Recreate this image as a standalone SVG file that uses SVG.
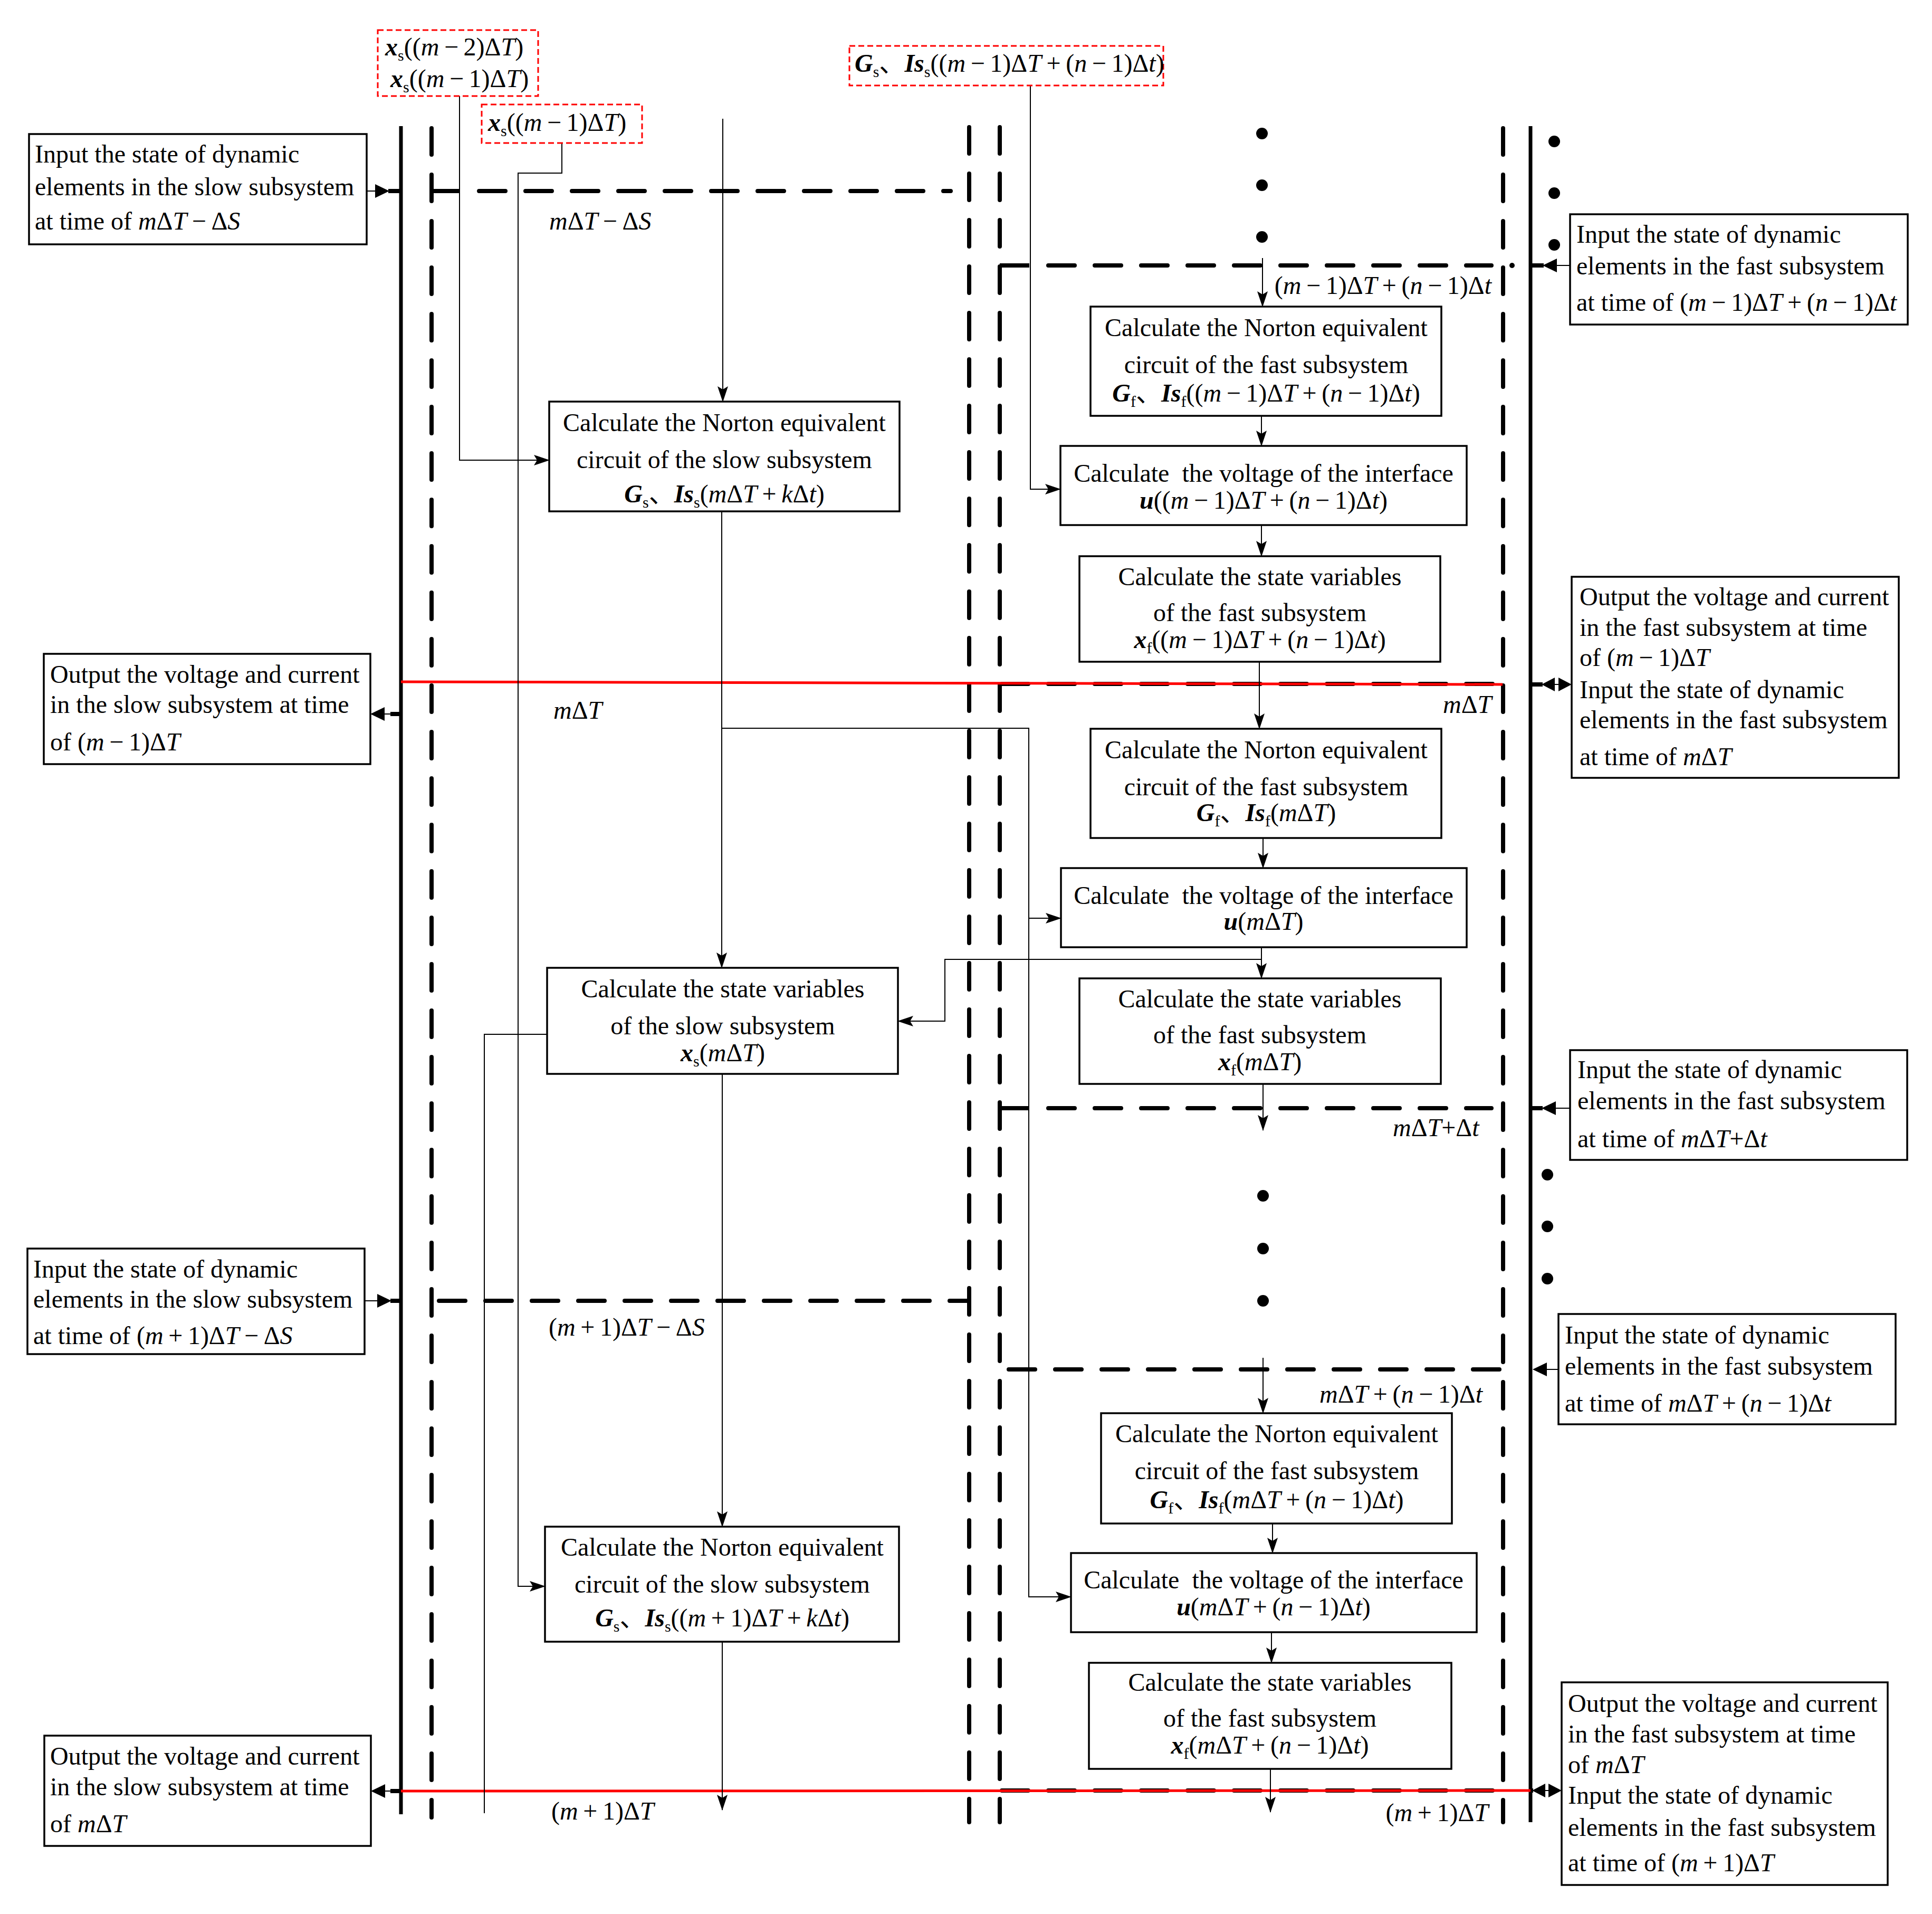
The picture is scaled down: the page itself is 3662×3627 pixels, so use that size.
<svg xmlns="http://www.w3.org/2000/svg" width="3662" height="3627" viewBox="0 0 3662 3627">
<defs>
<style>
text{font-family:"Liberation Serif","Noto Sans CJK SC",serif;font-size:48px;fill:#000}
.i{font-style:italic}
.b{font-style:italic;font-weight:bold}
.sub{font-size:30px;font-style:normal;font-weight:normal}
.mid{text-anchor:middle}
.end{text-anchor:end}
.box{fill:#fff;stroke:#000;stroke-width:3.5}
.rbox{fill:#fff;stroke:#f00;stroke-width:3;stroke-dasharray:11 6}
.thick{stroke:#000;stroke-width:7;fill:none}
.dash{stroke:#000;stroke-width:8;fill:none;stroke-dasharray:50 38;stroke-linecap:round}
.solid8{stroke:#000;stroke-width:8;fill:none}
.red{stroke:#f00;stroke-width:5;fill:none}
.con{stroke:#000;stroke-width:2;fill:none}
.arr{stroke:#000;stroke-width:2;fill:none;marker-end:url(#ah)}
.head{fill:#000}
</style>
<marker id="ah" viewBox="0 0 30 22" refX="29" refY="11" markerWidth="30" markerHeight="22" markerUnits="userSpaceOnUse" orient="auto"><path d="M0,1 L30,11 L0,21 L6,11 z" fill="#000"/></marker>
</defs>
<rect width="3662" height="3627" fill="#fff"/>

<g id="timelines">
<line class="thick" x1="760" y1="239" x2="760" y2="3438"/>
<line class="dash" x1="818" y1="243" x2="818" y2="3444"/>
<line class="dash" x1="1837" y1="241" x2="1837" y2="3453"/>
<line class="dash" x1="1895" y1="241" x2="1895" y2="3453"/>
<line class="dash" x1="2849" y1="243" x2="2849" y2="3453"/>
<line class="thick" x1="2901" y1="239" x2="2901" y2="3453"/>
<line class="solid8" x1="817" y1="362" x2="872" y2="362"/>
<line class="dash" x1="908" y1="362" x2="1802" y2="362"/>
<line class="solid8" x1="1895" y1="503" x2="1951" y2="503"/>
<line class="dash" x1="1987" y1="503" x2="2827" y2="503"/>
<circle cx="2866" cy="503" r="5" fill="#000"/>
<line class="dash" x1="1899" y1="1296" x2="2845" y2="1296"/>
<line class="solid8" x1="1895" y1="2100" x2="1951" y2="2100"/>
<line class="dash" x1="1987" y1="2100" x2="2827" y2="2100"/>
<line class="dash" x1="832" y1="2465" x2="1837" y2="2465"/>
<line class="dash" x1="1912" y1="2595" x2="2845" y2="2595"/>
<line class="dash" x1="1899" y1="3393" x2="2845" y2="3393"/>
<line class="red" x1="760" y1="1292" x2="2848" y2="1297"/>
<line class="red" x1="760" y1="3394" x2="2901" y2="3393"/>
<circle cx="2392" cy="253" r="11"/><circle cx="2392" cy="351" r="11"/><circle cx="2392" cy="449" r="11"/>
<circle cx="2946" cy="268" r="11"/><circle cx="2946" cy="366" r="11"/><circle cx="2946" cy="464" r="11"/>
<circle cx="2394" cy="2266" r="11"/><circle cx="2394" cy="2366" r="11"/><circle cx="2394" cy="2465" r="11"/>
<circle cx="2933" cy="2226" r="11"/><circle cx="2933" cy="2324" r="11"/><circle cx="2933" cy="2423" r="11"/>
</g>

<g id="connectors">
<polyline class="arr" points="871,182 871,872 1041,872"/>
<polyline class="arr" points="1065,271 1065,328 982,328 982,3006 1033,3006"/>
<line class="arr" x1="1370" y1="225" x2="1370" y2="761"/>
<line class="arr" x1="1368" y1="969" x2="1368" y2="1834"/>
<polyline class="arr" points="1368,1380 1950,1380 1950,3026 2030,3026"/>
<line class="arr" x1="1950" y1="1740" x2="2011" y2="1740"/>
<polyline class="arr" points="1953,162 1953,927 2010,927"/>
<line class="arr" x1="1369" y1="2035" x2="1369" y2="2893"/>
<line class="arr" x1="1369" y1="3111" x2="1369" y2="3430"/>
<polyline class="con" points="1037,1960 918,1960 918,3436"/>
<polyline class="arr" points="2391,1818 1791,1818 1791,1935 1702,1935"/>
<line class="arr" x1="2393" y1="489" x2="2393" y2="581"/>
<line class="arr" x1="2391" y1="788" x2="2391" y2="845"/>
<line class="arr" x1="2391" y1="995" x2="2391" y2="1054"/>
<line class="arr" x1="2387" y1="1254" x2="2387" y2="1381"/>
<line class="arr" x1="2394" y1="1588" x2="2394" y2="1645"/>
<line class="arr" x1="2391" y1="1795" x2="2391" y2="1854"/>
<line class="arr" x1="2394" y1="2054" x2="2394" y2="2142"/>
<line class="arr" x1="2394" y1="2573" x2="2394" y2="2678"/>
<line class="arr" x1="2412" y1="2887" x2="2412" y2="2943"/>
<line class="arr" x1="2410" y1="3093" x2="2410" y2="3151"/>
<line class="arr" x1="2408" y1="3352" x2="2408" y2="3434"/>
<line class="con" x1="695" y1="362" x2="714" y2="362"/><polygon class="head" points="738,362 711,349 711,375"/><line class="solid8" x1="736" y1="362" x2="760" y2="362"/>
<polygon class="head" points="702,1353 729,1340 729,1366"/><line class="con" x1="727" y1="1353" x2="742" y2="1353"/><line class="solid8" x1="740" y1="1353" x2="760" y2="1353"/>
<line class="con" x1="691" y1="2465" x2="718" y2="2465"/><polygon class="head" points="742,2465 715,2452 715,2478"/><line class="solid8" x1="740" y1="2465" x2="760" y2="2465"/>
<polygon class="head" points="703,3394 730,3381 730,3407"/><line class="con" x1="728" y1="3394" x2="742" y2="3394"/><line class="solid8" x1="740" y1="3394" x2="760" y2="3394"/>
<line class="con" x1="2976" y1="503" x2="2948" y2="503"/><polygon class="head" points="2924,503 2951,490 2951,516"/><line class="solid8" x1="2901" y1="503" x2="2926" y2="503"/>
<line class="solid8" x1="2901" y1="1297" x2="2924" y2="1297"/><polygon class="head" points="2922,1297 2947,1284 2947,1310"/><line class="con" x1="2945" y1="1297" x2="2956" y2="1297"/><polygon class="head" points="2979,1297 2954,1284 2954,1310"/>
<line class="con" x1="2976" y1="2100" x2="2946" y2="2100"/><polygon class="head" points="2922,2100 2949,2087 2949,2113"/><line class="solid8" x1="2901" y1="2100" x2="2924" y2="2100"/>
<line class="con" x1="2954" y1="2595" x2="2928" y2="2595"/><polygon class="head" points="2905,2595 2932,2582 2932,2608"/>
<line class="solid8" x1="2901" y1="3393" x2="2906" y2="3393"/><polygon class="head" points="2904,3393 2929,3380 2929,3406"/><line class="con" x1="2927" y1="3393" x2="2937" y2="3393"/><polygon class="head" points="2960,3393 2935,3380 2935,3406"/>
</g>

<g id="input-slow-1"><rect class="box" x="55" y="254" width="640" height="209"/>
<text x="66" y="308">Input the state of dynamic</text>
<text x="66" y="370">elements in the slow subsystem</text>
<text x="66" y="435">at time of  <tspan class="i">m</tspan>Δ<tspan class="i">T</tspan>&#8201;−&#8201;Δ<tspan class="i">S</tspan></text></g>

<g id="output-slow-1"><rect class="box" x="83" y="1239" width="619" height="209"/>
<text x="95" y="1294">Output the voltage and current</text>
<text x="95" y="1351">in the slow subsystem at time</text>
<text x="95" y="1422">of (<tspan class="i">m</tspan>&#8201;−&#8201;1)Δ<tspan class="i">T</tspan></text></g>

<g id="input-slow-2"><rect class="box" x="52" y="2366" width="639" height="200"/>
<text x="63" y="2421">Input the state of dynamic</text>
<text x="63" y="2478">elements in the slow subsystem</text>
<text x="63" y="2547">at time of (<tspan class="i">m</tspan>&#8201;+&#8201;1)Δ<tspan class="i">T</tspan>&#8201;−&#8201;Δ<tspan class="i">S</tspan></text></g>

<g id="output-slow-2"><rect class="box" x="84" y="3289" width="619" height="209"/>
<text x="95" y="3344">Output the voltage and current</text>
<text x="95" y="3402">in the slow subsystem at time</text>
<text x="95" y="3472">of  <tspan class="i">m</tspan>Δ<tspan class="i">T</tspan></text></g>

<g id="input-fast-1"><rect class="box" x="2976" y="406" width="640" height="209"/>
<text x="2988" y="460">Input the state of dynamic</text>
<text x="2988" y="520">elements in the fast subsystem</text>
<text x="2988" y="589">at time of (<tspan class="i">m</tspan>&#8201;−&#8201;1)Δ<tspan class="i">T</tspan>&#8201;+&#8201;(<tspan class="i">n</tspan>&#8201;−&#8201;1)Δ<tspan class="i">t</tspan></text></g>

<g id="output-fast-1"><rect class="box" x="2979" y="1093" width="620" height="381"/>
<text x="2994" y="1147">Output the voltage and current</text>
<text x="2994" y="1205">in the fast subsystem at time</text>
<text x="2994" y="1262">of  (<tspan class="i">m</tspan>&#8201;−&#8201;1)Δ<tspan class="i">T</tspan></text>
<text x="2994" y="1323">Input the state of dynamic</text>
<text x="2994" y="1380">elements in the fast subsystem</text>
<text x="2994" y="1450">at time of  <tspan class="i">m</tspan>Δ<tspan class="i">T</tspan></text></g>

<g id="input-fast-2"><rect class="box" x="2976" y="1990" width="639" height="208"/>
<text x="2990" y="2043">Input the state of dynamic</text>
<text x="2990" y="2102">elements in the fast subsystem</text>
<text x="2990" y="2174">at time of  <tspan class="i">m</tspan>Δ<tspan class="i">T</tspan>+Δ<tspan class="i">t</tspan></text></g>

<g id="input-fast-3"><rect class="box" x="2954" y="2490" width="639" height="209"/>
<text x="2966" y="2546">Input the state of dynamic</text>
<text x="2966" y="2605">elements in the fast subsystem</text>
<text x="2966" y="2675">at time of <tspan class="i">m</tspan>Δ<tspan class="i">T</tspan>&#8201;+&#8201;(<tspan class="i">n</tspan>&#8201;−&#8201;1)Δ<tspan class="i">t</tspan></text></g>

<g id="output-fast-2"><rect class="box" x="2960" y="3188" width="618" height="384"/>
<text x="2972" y="3244">Output the voltage and current</text>
<text x="2972" y="3302">in the fast subsystem at time</text>
<text x="2972" y="3360">of <tspan class="i">m</tspan>Δ<tspan class="i">T</tspan></text>
<text x="2972" y="3418">Input the state of dynamic</text>
<text x="2972" y="3479">elements in the fast subsystem</text>
<text x="2972" y="3546">at time of (<tspan class="i">m</tspan>&#8201;+&#8201;1)Δ<tspan class="i">T</tspan></text></g>

<g id="norton-slow-1"><rect class="box" x="1041" y="761" width="664" height="208"/>
<text class="mid" x="1373" y="817">Calculate the Norton equivalent</text>
<text class="mid" x="1373" y="887">circuit of the slow subsystem</text>
<text class="mid" x="1373" y="952"><tspan class="b">G</tspan><tspan class="sub" dy="10">s</tspan><tspan dy="-10">、</tspan><tspan class="b">Is</tspan><tspan class="sub" dy="10">s</tspan><tspan dy="-10">(</tspan><tspan class="i">m</tspan>Δ<tspan class="i">T</tspan>&#8201;+&#8201;<tspan class="i">k</tspan>Δ<tspan class="i">t</tspan>)</text></g>

<g id="state-slow-1"><rect class="box" x="1037" y="1834" width="665" height="201"/>
<text class="mid" x="1370" y="1890">Calculate the state variables</text>
<text class="mid" x="1370" y="1960">of the slow subsystem</text>
<text class="mid" x="1370" y="2011"><tspan class="b">x</tspan><tspan class="sub" dy="10">s</tspan><tspan dy="-10">(</tspan><tspan class="i">m</tspan>Δ<tspan class="i">T</tspan>)</text></g>

<g id="norton-slow-2"><rect class="box" x="1033" y="2893" width="671" height="218"/>
<text class="mid" x="1369" y="2948">Calculate the Norton equivalent</text>
<text class="mid" x="1369" y="3018">circuit of the slow subsystem</text>
<text class="mid" x="1369" y="3082"><tspan class="b">G</tspan><tspan class="sub" dy="10">s</tspan><tspan dy="-10">、</tspan><tspan class="b">Is</tspan><tspan class="sub" dy="10">s</tspan><tspan dy="-10">((</tspan><tspan class="i">m</tspan>&#8201;+&#8201;1)Δ<tspan class="i">T</tspan>&#8201;+&#8201;<tspan class="i">k</tspan>Δ<tspan class="i">t</tspan>)</text></g>

<g id="norton-fast-1"><rect class="box" x="2067" y="581" width="665" height="207"/>
<text class="mid" x="2400" y="637">Calculate the Norton equivalent</text>
<text class="mid" x="2400" y="707">circuit of the fast subsystem</text>
<text class="mid" x="2400" y="761"><tspan class="b">G</tspan><tspan class="sub" dy="10">f</tspan><tspan dy="-10">、</tspan><tspan class="b">Is</tspan><tspan class="sub" dy="10">f</tspan><tspan dy="-10">((</tspan><tspan class="i">m</tspan>&#8201;−&#8201;1)Δ<tspan class="i">T</tspan>&#8201;+&#8201;(<tspan class="i">n</tspan>&#8201;−&#8201;1)Δ<tspan class="i">t</tspan>)</text></g>

<g id="voltage-fast-1"><rect class="box" x="2010" y="845" width="770" height="150"/>
<text class="mid" x="2395" y="913">Calculate &#160;the voltage of the interface</text>
<text class="mid" x="2395" y="964"><tspan class="b">u</tspan>((<tspan class="i">m</tspan>&#8201;−&#8201;1)Δ<tspan class="i">T</tspan>&#8201;+&#8201;(<tspan class="i">n</tspan>&#8201;−&#8201;1)Δ<tspan class="i">t</tspan>)</text></g>

<g id="state-fast-1"><rect class="box" x="2046" y="1054" width="684" height="200"/>
<text class="mid" x="2388" y="1109">Calculate the state variables</text>
<text class="mid" x="2388" y="1177">of the fast subsystem</text>
<text class="mid" x="2388" y="1228"><tspan class="b">x</tspan><tspan class="sub" dy="10">f</tspan><tspan dy="-10">((</tspan><tspan class="i">m</tspan>&#8201;−&#8201;1)Δ<tspan class="i">T</tspan>&#8201;+&#8201;(<tspan class="i">n</tspan>&#8201;−&#8201;1)Δ<tspan class="i">t</tspan>)</text></g>

<g id="norton-fast-2"><rect class="box" x="2067" y="1381" width="665" height="207"/>
<text class="mid" x="2400" y="1437">Calculate the Norton equivalent</text>
<text class="mid" x="2400" y="1507">circuit of the fast subsystem</text>
<text class="mid" x="2400" y="1556"><tspan class="b">G</tspan><tspan class="sub" dy="10">f</tspan><tspan dy="-10">、</tspan><tspan class="b">Is</tspan><tspan class="sub" dy="10">f</tspan><tspan dy="-10">(</tspan><tspan class="i">m</tspan>Δ<tspan class="i">T</tspan>)</text></g>

<g id="voltage-fast-2"><rect class="box" x="2011" y="1645" width="769" height="150"/>
<text class="mid" x="2395" y="1713">Calculate &#160;the voltage of the interface</text>
<text class="mid" x="2395" y="1762"><tspan class="b">u</tspan>(<tspan class="i">m</tspan>Δ<tspan class="i">T</tspan>)</text></g>

<g id="state-fast-2"><rect class="box" x="2046" y="1854" width="685" height="200"/>
<text class="mid" x="2388" y="1909">Calculate the state variables</text>
<text class="mid" x="2388" y="1977">of the fast subsystem</text>
<text class="mid" x="2388" y="2028"><tspan class="b">x</tspan><tspan class="sub" dy="10">f</tspan><tspan dy="-10">(</tspan><tspan class="i">m</tspan>Δ<tspan class="i">T</tspan>)</text></g>

<g id="norton-fast-3"><rect class="box" x="2087" y="2678" width="665" height="209"/>
<text class="mid" x="2420" y="2733">Calculate the Norton equivalent</text>
<text class="mid" x="2420" y="2803">circuit of the fast subsystem</text>
<text class="mid" x="2420" y="2858"><tspan class="b">G</tspan><tspan class="sub" dy="10">f</tspan><tspan dy="-10">、</tspan><tspan class="b">Is</tspan><tspan class="sub" dy="10">f</tspan><tspan dy="-10">(</tspan><tspan class="i">m</tspan>Δ<tspan class="i">T</tspan>&#8201;+&#8201;(<tspan class="i">n</tspan>&#8201;−&#8201;1)Δ<tspan class="i">t</tspan>)</text></g>

<g id="voltage-fast-3"><rect class="box" x="2030" y="2943" width="769" height="150"/>
<text class="mid" x="2414" y="3010">Calculate &#160;the voltage of the interface</text>
<text class="mid" x="2414" y="3061"><tspan class="b">u</tspan>(<tspan class="i">m</tspan>Δ<tspan class="i">T</tspan>&#8201;+&#8201;(<tspan class="i">n</tspan>&#8201;−&#8201;1)Δ<tspan class="i">t</tspan>)</text></g>

<g id="state-fast-3"><rect class="box" x="2064" y="3151" width="687" height="201"/>
<text class="mid" x="2407" y="3204">Calculate the state variables</text>
<text class="mid" x="2407" y="3272">of the fast subsystem</text>
<text class="mid" x="2407" y="3323"><tspan class="b">x</tspan><tspan class="sub" dy="10">f</tspan><tspan dy="-10">(</tspan><tspan class="i">m</tspan>Δ<tspan class="i">T</tspan>&#8201;+&#8201;(<tspan class="i">n</tspan>&#8201;−&#8201;1)Δ<tspan class="i">t</tspan>)</text></g>

<g id="given-xs-prev2"><rect class="rbox" x="716" y="57" width="304" height="125"/>
<text x="730" y="105"><tspan class="b">x</tspan><tspan class="sub" dy="10">s</tspan><tspan dy="-10">((</tspan><tspan class="i">m</tspan>&#8201;−&#8201;2)Δ<tspan class="i">T</tspan>)</text>
<text x="740" y="165"><tspan class="b">x</tspan><tspan class="sub" dy="10">s</tspan><tspan dy="-10">((</tspan><tspan class="i">m</tspan>&#8201;−&#8201;1)Δ<tspan class="i">T</tspan>)</text></g>

<g id="given-xs-prev1"><rect class="rbox" x="913" y="198" width="304" height="73"/>
<text x="925" y="248"><tspan class="b">x</tspan><tspan class="sub" dy="10">s</tspan><tspan dy="-10">((</tspan><tspan class="i">m</tspan>&#8201;−&#8201;1)Δ<tspan class="i">T</tspan>)</text></g>

<g id="given-Gs"><rect class="rbox" x="1610" y="87" width="595" height="75"/>
<text x="1620" y="136"><tspan class="b">G</tspan><tspan class="sub" dy="10">s</tspan><tspan dy="-10">、</tspan><tspan class="b">Is</tspan><tspan class="sub" dy="10">s</tspan><tspan dy="-10">((</tspan><tspan class="i">m</tspan>&#8201;−&#8201;1)Δ<tspan class="i">T</tspan>&#8201;+&#8201;(<tspan class="i">n</tspan>&#8201;−&#8201;1)Δ<tspan class="i">t</tspan>)</text></g>

<g id="time-labels">
<text x="1041" y="435"><tspan class="i">m</tspan>Δ<tspan class="i">T</tspan>&#8201;−&#8201;Δ<tspan class="i">S</tspan></text>
<text class="end" x="2827" y="557">(<tspan class="i">m</tspan>&#8201;−&#8201;1)Δ<tspan class="i">T</tspan>&#8201;+&#8201;(<tspan class="i">n</tspan>&#8201;−&#8201;1)Δ<tspan class="i">t</tspan></text>
<text x="1049" y="1362"><tspan class="i">m</tspan>Δ<tspan class="i">T</tspan></text>
<text x="2735" y="1351"><tspan class="i">m</tspan>Δ<tspan class="i">T</tspan></text>
<text x="2640" y="2153"><tspan class="i">m</tspan>Δ<tspan class="i">T</tspan>+Δ<tspan class="i">t</tspan></text>
<text x="1040" y="2531">(<tspan class="i">m</tspan>&#8201;+&#8201;1)Δ<tspan class="i">T</tspan>&#8201;−&#8201;Δ<tspan class="i">S</tspan></text>
<text class="end" x="2810" y="2658"><tspan class="i">m</tspan>Δ<tspan class="i">T</tspan>&#8201;+&#8201;(<tspan class="i">n</tspan>&#8201;−&#8201;1)Δ<tspan class="i">t</tspan></text>
<text x="1045" y="3448">(<tspan class="i">m</tspan>&#8201;+&#8201;1)Δ<tspan class="i">T</tspan></text>
<text class="end" x="2821" y="3451">(<tspan class="i">m</tspan>&#8201;+&#8201;1)Δ<tspan class="i">T</tspan></text>
</g>
</svg>
